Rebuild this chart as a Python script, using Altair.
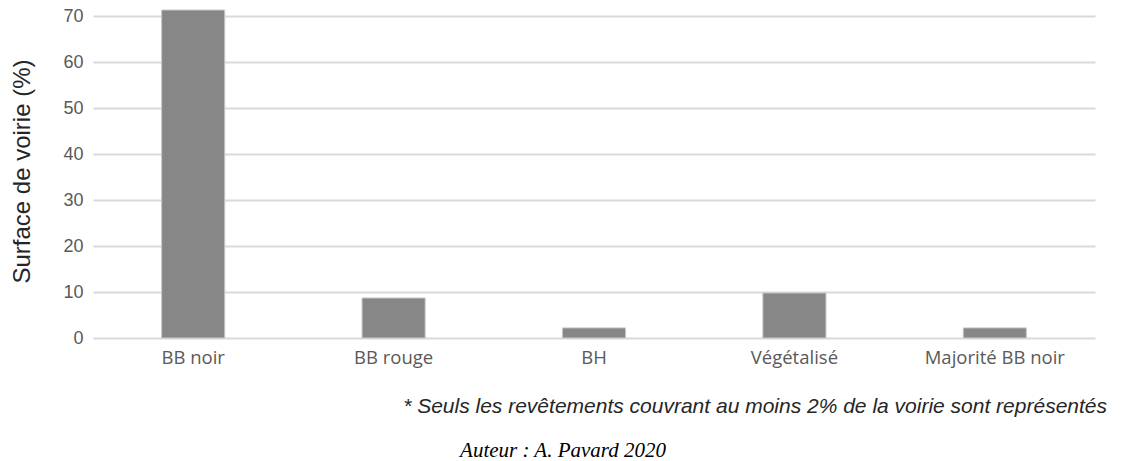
import altair as alt
import pandas as pd

# Road surface coverings (share of the road surface, %)
categories = ["BB noir", "BB rouge", "BH", "Végétalisé", "Majorité BB noir"]
values = [71.3, 8.7, 2.2, 9.8, 2.2]
y_ticks = [0, 10, 20, 30, 40, 50, 60, 70]

footnote = "* Seuls les revêtements couvrant au moins 2% de la voirie sont représentés"
author = "Auteur : A. Pavard 2020"

df = pd.DataFrame({"revetement": categories, "surface": values})

W, H = 1002, 322

bars = alt.Chart(df).mark_bar(
    color="#878787", stroke="#c9c9c9", strokeWidth=1
).encode(
    x=alt.X(
        "revetement:N",
        sort=categories,
        scale=alt.Scale(paddingInner=0.685, paddingOuter=0.3425),
        axis=alt.Axis(
            title=None, labelAngle=0, domain=False, ticks=False,
            labelFont="Open Sans", labelFontSize=18.5, labelColor="#595959",
            labelPadding=10, grid=False,
        ),
    ),
    y=alt.Y(
        "surface:Q",
        scale=alt.Scale(domain=[0, 70], nice=False),
        axis=alt.Axis(
            values=y_ticks, title="Surface de voirie (%)",
            domain=False, ticks=False,
            labelFont="Liberation Sans", labelFontSize=18, labelColor="#595959",
            labelPadding=10,
            gridColor="#d9d9d9", gridWidth=2,
            titleFont="Liberation Sans", titleFontSize=24, titleFontWeight="normal",
            titleColor="#262626", titleAngle=270, titleX=-71, titleY=H / 2 - 6,
            titleAlign="center", titleBaseline="middle",
        ),
    ),
)

note = alt.Chart(pd.DataFrame({"t": [footnote]})).mark_text(
    align="right", baseline="middle", font="Liberation Sans", fontSize=21,
    fontStyle="italic", color="#262626",
).encode(text="t:N", x=alt.value(1014), y=alt.value(391))

auth = alt.Chart(pd.DataFrame({"t": [author]})).mark_text(
    align="center", baseline="middle", font="Liberation Serif", fontSize=21,
    fontStyle="italic", color="#000000",
).encode(text="t:N", x=alt.value(470), y=alt.value(435))

chart = alt.layer(bars, note, auth).properties(
    width=W, height=H,
    background="white",
    autosize=alt.AutoSizeParams(type="none"),
    padding={"left": 93, "top": 16, "right": 30, "bottom": 123},
).configure_view(strokeWidth=0, stroke="transparent")

chart.save("out.html", embed_options={"renderer": "svg", "actions": False})
